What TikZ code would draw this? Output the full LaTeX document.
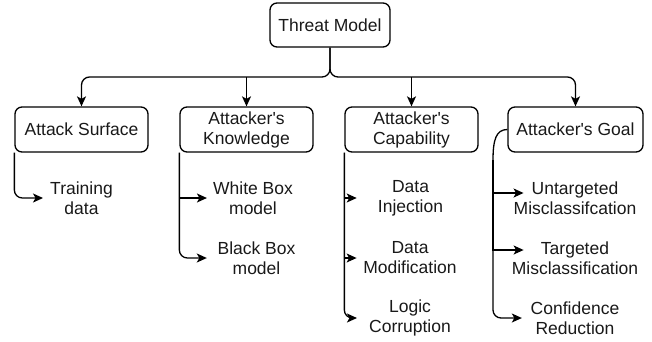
\documentclass[tikz,border=0pt]{standalone}
\usepackage{fontspec}
\setmainfont{Liberation Sans}[Ligatures=TeXOff]
\usetikzlibrary{arrows.meta}
\begin{document}
\begin{tikzpicture}[x=1pt,y=-1pt,
  every node/.style={font=\fontsize{17.5}{20}\selectfont, text=black!90},
  box/.style={draw, rounded corners=7pt, line width=1.3pt, minimum width=133pt, minimum height=45pt, align=center, inner sep=2pt},
  leaf/.style={align=center, inner sep=0pt},
  conn/.style={line width=1.3pt},
  arr/.style={conn, -{Stealth[length=10pt,width=9pt,inset=2.5pt]}}]
\useasboundingbox (0,0) rectangle (652,341);

\node[box, minimum width=120pt, minimum height=44pt] (tm) at (330,25) {Threat Model};
\node[box] (as) at (81.5,129.5) {Attack Surface};
\node[box] (kn) at (246.5,129.5) {Attacker's\\Knowledge};
\node[box] (cap) at (411.5,129.5) {Attacker's\\Capability};
\node[box, minimum width=135pt] (goal) at (575.5,129.5) {Attacker's Goal};

\node[leaf] (td) at (81.5,198) {Training\\data};
\node[leaf] (wb) at (253,198) {White Box\\model};
\node[leaf] (bb) at (256.5,258) {Black Box\\model};
\node[leaf] (di) at (410.5,198) {Data\\Injection};
\node[leaf] (dm) at (410,258) {Data\\Modification};
\node[leaf] (lc) at (410,318) {Logic\\Corruption};
\node[leaf] (ut) at (575,198) {Untargeted\\Misclassifcation};
\node[leaf] (tg) at (575,258) {Targeted\\Misclassification};
\node[leaf] (cr) at (575,318) {Confidence\\Reduction};

\coordinate (hub) at (330,77);
\draw[arr, rounded corners=8pt] (tm.south) -- (hub) -| (as.north);
\draw[arr, rounded corners=8pt] (tm.south) -- (hub) -| (goal.north);
\draw[arr] (hub -| kn.north) -- (kn.north);
\draw[arr] (hub -| cap.north) -- (cap.north);

\draw[arr, rounded corners=8pt] (as.south west) |- ([xshift=-7pt]td.west);

\draw[arr] (kn.south west) |- ([xshift=-6pt]wb.west);
\draw[arr, rounded corners=8pt] (kn.south west) |- ([xshift=-10.6pt]bb.west);

\draw[arr] (cap.south west) |- ([xshift=-21pt]di.west);
\draw[arr] (cap.south west) |- ([xshift=-6.5pt]dm.west);
\draw[arr, rounded corners=8pt] (cap.south west) |- ([xshift=-12pt]lc.west);

\coordinate (gx) at (493,160);
\draw[conn] (goal.west) .. controls (496,129.5) and (493,140) .. (gx);
\draw[arr, rounded corners=8pt] (gx) |- ([xshift=-8.7pt]cr.west);
\draw[arr] (gx) |- ([xshift=10pt,yshift=5pt]ut.west);
\draw[arr] (gx) |- ([xshift=12pt,yshift=8pt]tg.west);
\end{tikzpicture}
\end{document}
